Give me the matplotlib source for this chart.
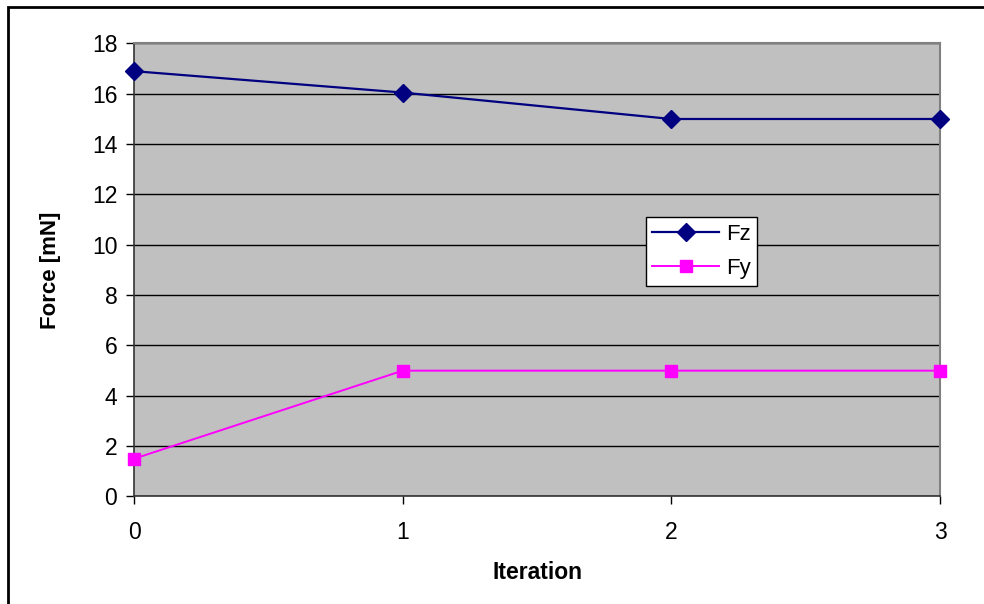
import numpy as np
import matplotlib.pyplot as plt
from matplotlib.patches import Rectangle

plt.rcParams['font.family'] = ['Liberation Sans', 'DejaVu Sans']

# Data
iteration = [0, 1, 2, 3]
fz = [16.9, 16.05, 15.0, 15.0]
fy = [1.5, 5.0, 5.0, 5.0]
y_ticks = [0, 2, 4, 6, 8, 10, 12, 14, 16, 18]

fig = plt.figure(figsize=(9.84, 6.04), dpi=100)
ax = fig.add_axes([0.1362, 0.178, 0.8191, 0.750])

ax.set_facecolor('#C0C0C0')
ax.plot(iteration, fz, color='#000080', linewidth=1.6, marker='D',
        markersize=9, label='Fz', clip_on=False, zorder=3)
ax.plot(iteration, fy, color='#FF00FF', linewidth=1.4, marker='s',
        markersize=8.5, label='Fy', clip_on=False, zorder=3)

ax.set_xlim(0, 3)
ax.set_ylim(0, 18)
ax.set_xticks(iteration)
ax.set_yticks(y_ticks)
ax.yaxis.grid(True, color='black', linewidth=1.0)
ax.set_axisbelow(True)
ax.tick_params(axis='both', direction='out', length=6, width=1,
               color='black', labelsize=16.5)
ax.tick_params(axis='x', pad=12)
ax.tick_params(axis='y', pad=6)

for side in ['top', 'right']:
    ax.spines[side].set_color('#808080')
    ax.spines[side].set_linewidth(1.5)
for side in ['left', 'bottom']:
    ax.spines[side].set_color('#333333')
    ax.spines[side].set_linewidth(1.2)

ax.set_xlabel('Iteration', fontsize=16.5, fontweight='bold', labelpad=12)
ax.set_ylabel('Force [mN]', fontsize=16, fontweight='bold', labelpad=22)

leg = ax.legend(loc='upper left', bbox_to_anchor=(0.635, 0.6165),
                fontsize=16, frameon=True, fancybox=False, framealpha=1,
                edgecolor='black', borderpad=0.3, handlelength=3.0,
                handletextpad=0.3, labelspacing=0.6, borderaxespad=0)
leg.get_frame().set_linewidth(1.0)

# outer chart frame
fig.patches.append(Rectangle((8 / 984, -0.05), 1.1, (604 - 7) / 604 + 0.05,
                             transform=fig.transFigure, fill=False,
                             edgecolor='black', linewidth=2))

fig.savefig('out.png', dpi=100)
